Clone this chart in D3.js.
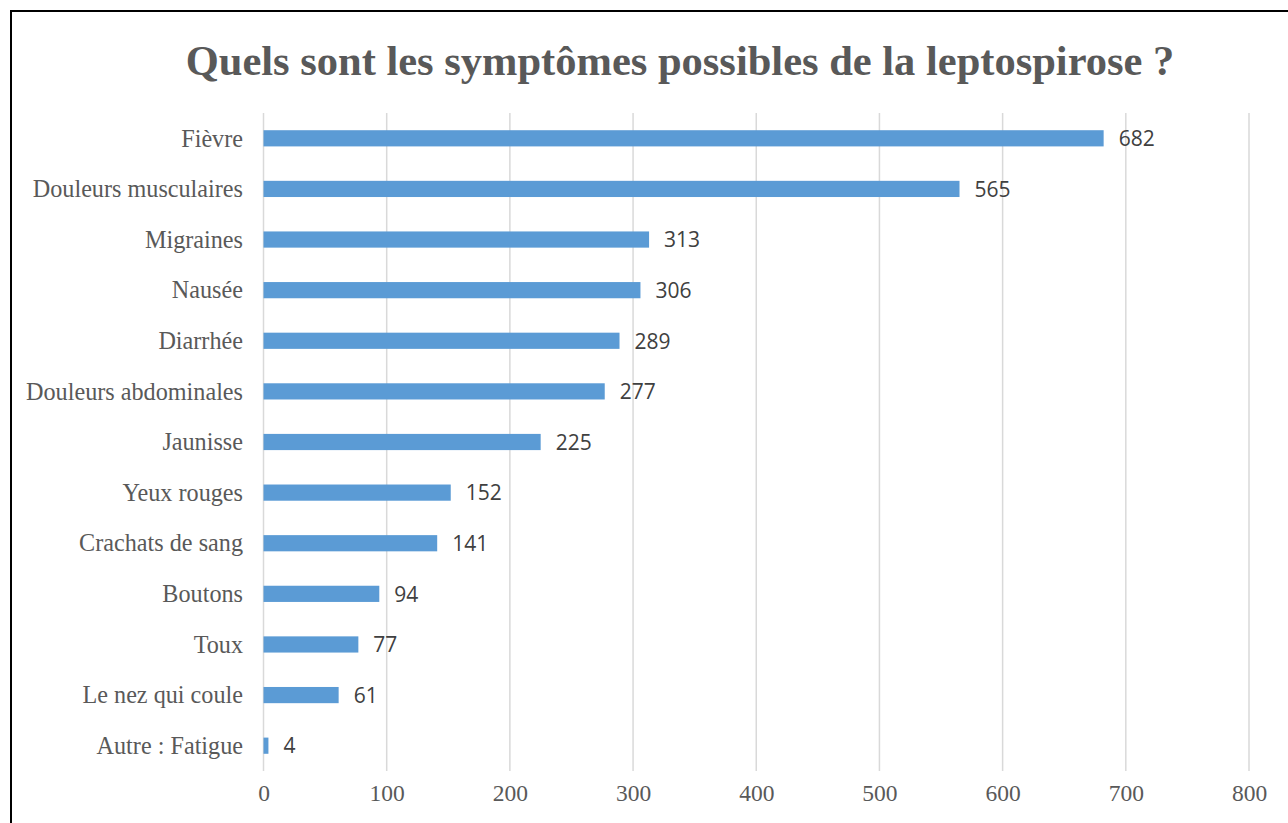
<!DOCTYPE html>
<html>
<head>
<meta charset="utf-8">
<script src="https://cdn.jsdelivr.net/npm/d3@7"></script>
<style>
  body { margin: 0; background: #fff; }
</style>
</head>
<body>
<div id="chart"></div>
<script>
// data
var symptoms = ['Fièvre', 'Douleurs musculaires', 'Migraines', 'Nausée', 'Diarrhée',
  'Douleurs abdominales', 'Jaunisse', 'Yeux rouges', 'Crachats de sang', 'Boutons',
  'Toux', 'Le nez qui coule', 'Autre : Fatigue'];
var counts = [682, 565, 313, 306, 289, 277, 225, 152, 141, 94, 77, 61, 4];
var ticks = [0, 100, 200, 300, 400, 500, 600, 700, 800];

var width = 1288
height = 823

var svg = d3.select('#chart')
  .append('svg')
  .attr('width', width)
  .attr('height', height);

// frame, runs off the right and bottom edges like the original
svg.append('rect')
  .attr('x', 11)
  .attr('y', 11)
  .attr('width', 1400)
  .attr('height', 900)
  .attr('fill', 'none')
  .attr('stroke', '#000')
  .attr('stroke-width', 2);

svg.append('text')
  .attr('x', 680)
  .attr('y', 75)
  .attr('text-anchor', 'middle')
  .style('font-family', '"Liberation Serif", "Times New Roman", serif')
  .style('font-weight', 'bold')
  .style('font-size', '42.5px')
  .style('fill', '#595959')
  .text('Quels sont les symptômes possibles de la leptospirose ?');

var x = d3.scaleLinear()
  .domain([0, 800])
  .range([263.5, 1249]);

var y = d3.scaleBand()
  .domain(symptoms)
  .range([113, 771])
  .paddingInner(0.68)
  .paddingOuter(0.34);

// vertical gridlines
svg.append('g')
  .selectAll('line')
  .data(ticks)
  .enter()
  .append('line')
  .attr('x1', function (d) { return x(d); })
  .attr('x2', function (d) { return x(d); })
  .attr('y1', 113)
  .attr('y2', 771)
  .attr('stroke', '#d9d9d9')
  .attr('stroke-width', 1.5);

// x axis labels
var xAxis = svg.append('g')
  .attr('transform', 'translate(0,784)')
  .call(d3.axisBottom(x).tickValues(ticks).tickSize(0).tickPadding(0));
xAxis.select('.domain').remove();
xAxis.selectAll('text')
  .attr('dy', '0.71em')
  .style('font-family', '"Liberation Serif", "Times New Roman", serif')
  .style('font-size', '23.5px')
  .style('fill', '#595959');

// category labels
var yAxis = svg.append('g')
  .attr('transform', 'translate(243,0)')
  .call(d3.axisLeft(y).tickSize(0).tickPadding(0));
yAxis.select('.domain').remove();
yAxis.selectAll('text')
  .attr('dy', '0.34em')
  .style('font-family', '"Liberation Serif", "Times New Roman", serif')
  .style('font-size', '24.2px')
  .style('fill', '#595959');

var data = symptoms.map(function (s, i) { return { name: s, count: counts[i] }; });

svg.append('g')
  .selectAll('rect')
  .data(data)
  .enter()
  .append('rect')
  .attr('x', x(0))
  .attr('y', function (d) { return y(d.name); })
  .attr('width', function (d) { return x(d.count) - x(0); })
  .attr('height', y.bandwidth())
  .attr('fill', '#5b9bd5');

svg.append('g')
  .selectAll('text')
  .data(data)
  .enter()
  .append('text')
  .attr('x', function (d) { return x(d.count) + 15; })
  .attr('y', function (d) { return y(d.name) + y.bandwidth() / 2; })
  .attr('dy', '0.37em')
  .style('font-family', '"Open Sans", sans-serif')
  .style('font-size', '21px')
  .style('fill', '#404040')
  .text(function (d) { return d.count; });
</script>
</body>
</html>
